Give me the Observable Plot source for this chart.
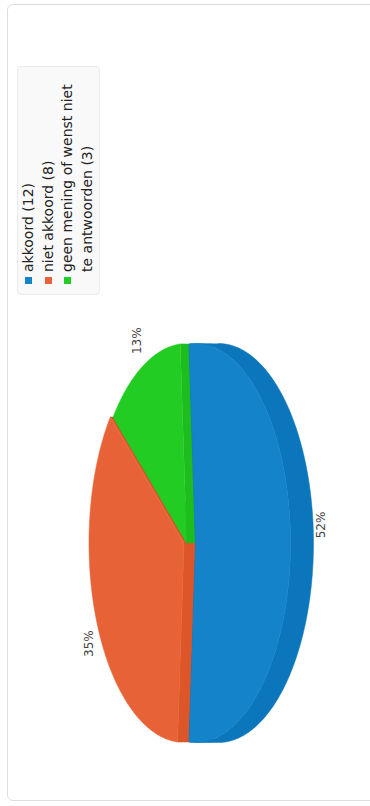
<!DOCTYPE html>
<html>
<head>
<meta charset="utf-8">
<script src="https://cdn.jsdelivr.net/npm/d3@7"></script>
<script src="https://cdn.jsdelivr.net/npm/@observablehq/plot@0.6"></script>
<style>
  html, body { margin: 0; padding: 0; width: 370px; height: 806px; overflow: hidden; background: #fff; }
  #wrap { position: absolute; left: 0; top: 0; width: 806px; height: 370px;
          transform-origin: 0 0; transform: translate(0, 806px) rotate(-90deg);
          font-family: "DejaVu Sans", sans-serif; }
  #frame { position: absolute; left: 5px; top: 7px; width: 797px; height: 420px;
           border: 1px solid #dedede; border-radius: 6px; box-sizing: border-box; }
  #chart { position: absolute; left: 0; top: 0; }
  .legend { position: absolute; left: 511px; top: 17px; width: 229px; height: 83px;
            background: #f9f9f9; border: 1px solid #ececec; border-radius: 4px;
            box-sizing: border-box; padding-top: 1px; font-size: 14px; color: #222; }
  .item { display: flex; align-items: flex-start; }
  .sw { width: 7px; height: 7px; margin-top: 6px; margin-left: 10px; margin-right: 5px; flex: none; }
  .lab { width: 198px; line-height: 19.5px; }
</style>
</head>
<body>
<div id="wrap">
  <div id="frame"></div>
  <div id="chart"></div>
  <div class="legend" id="legend"></div>
</div>
<script>
// ---- data ----
const categories = ["akkoord", "niet akkoord", "geen mening of wenst niet te antwoorden"];
const counts = [12, 8, 3];
const topColors = ["#1583c9", "#e86237", "#22cc22"];
const sideColors = ["#0b76bb", "#dc5629", "#1dbd1d"];

// ---- geometry (original landscape orientation, page is rotated) ----
const W = 806, H = 370;
const cx = 262.5, cy = 189, rx = 199.5, ry = 95, depth = 23, explode = 10, kx = 0, ky = 0.6;

const total = d3.sum(counts);
const span0 = counts[0] / total * 2 * Math.PI;
const a0 = Math.PI - span0 / 2;
const arcs = d3.pie().sort(null).startAngle(a0).endAngle(a0 + 2 * Math.PI)(counts);

function pt(a, ox, oy, dz = 0) {
  return [cx + ox + rx * Math.sin(a), cy + oy - ry * Math.cos(a) + dz];
}

const tops = [], sides = [], labels = [];
const order = [1, 2, 0];
const info = arcs.map((a, i) => {
  const mid = (a.startAngle + a.endAngle) / 2;
  const ox = explode * kx * Math.sin(mid), oy = -explode * ky * Math.cos(mid);
  return {a, i, mid, ox, oy};
});

order.forEach(i => {
  const {a, ox, oy} = info[i];
  const c = [cx + ox, cy + oy];
  // cut faces
  [a.startAngle, a.endAngle].forEach((ang, j) => {
    const e = pt(ang, ox, oy);
    const poly = [c, e, [e[0], e[1] + depth], [c[0], c[1] + depth]];
    poly.forEach(p => sides.push({x: p[0], y: p[1], id: `c${i}${j}`, fill: sideColors[i]}));
  });
  // outer wall on front half
  for (const off of [0, 2 * Math.PI]) {
    const w0 = Math.max(a.startAngle, Math.PI / 2 + off);
    const w1 = Math.min(a.endAngle, 3 * Math.PI / 2 + off);
    if (w1 > w0) {
      const n = Math.ceil((w1 - w0) / (Math.PI / 180));
      const up = [], dn = [];
      for (let j = 0; j <= n; j++) {
        const t = w0 + (w1 - w0) * j / n;
        up.push(pt(t, ox, oy));
        dn.push(pt(t, ox, oy, depth));
      }
      [...up, ...dn.reverse()].forEach(p => sides.push({x: p[0], y: p[1], id: `w${i}${off}`, fill: sideColors[i]}));
    }
  }
});

order.forEach(i => {
  const {a, ox, oy} = info[i];
  const pts = [[cx + ox, cy + oy]];
  const n = Math.max(2, Math.ceil((a.endAngle - a.startAngle) / (Math.PI / 180)));
  for (let j = 0; j <= n; j++) pts.push(pt(a.startAngle + (a.endAngle - a.startAngle) * j / n, ox, oy));
  pts.forEach(p => tops.push({x: p[0], y: p[1], id: `t${i}`, fill: topColors[i]}));
});

info.forEach(({a, i, mid, ox, oy}) => {
  const s = Math.sin(mid), co = Math.cos(mid);
  const ex = cx + ox + (rx + 8) * s;
  const ey = cy + oy - (ry + 4) * co + (co < 0 ? depth : 0);
  const tx = ex + (s >= -1e-6 ? 18 : -18);
  const ty = ey + (co > 0 ? -4 : 4);
  labels.push({x: tx, y: ty, text: Math.round(counts[i] / total * 100) + "%"});
});

const chart = Plot.plot({
  width: W, height: H, margin: 0,
  x: {domain: [0, W], range: [0, W], axis: null},
  y: {domain: [0, H], range: [0, H], axis: null},
  color: {type: "identity"},
  style: {fontFamily: "DejaVu Sans", background: "transparent"},
  marks: [
    Plot.line(sides, {x: "x", y: "y", z: "id", fill: "fill", stroke: "fill", strokeWidth: 0.5, curve: "linear"}),
    Plot.line(tops, {x: "x", y: "y", z: "id", fill: "fill", stroke: "fill", strokeWidth: 0.5, curve: "linear"}),
    Plot.text(labels, {x: "x", y: "y", text: "text", fontSize: 12, fill: "#444", textAnchor: "middle", lineAnchor: "middle"})
  ]
});
document.getElementById("chart").appendChild(chart);

// ---- legend ----
const legend = document.getElementById("legend");
categories.forEach((c, i) => {
  const item = document.createElement("div");
  item.className = "item";
  const sw = document.createElement("span");
  sw.className = "sw";
  sw.style.background = topColors[i];
  const lab = document.createElement("span");
  lab.className = "lab";
  lab.textContent = `${c} (${counts[i]})`;
  item.appendChild(sw);
  item.appendChild(lab);
  legend.appendChild(item);
});
</script>
</body>
</html>
